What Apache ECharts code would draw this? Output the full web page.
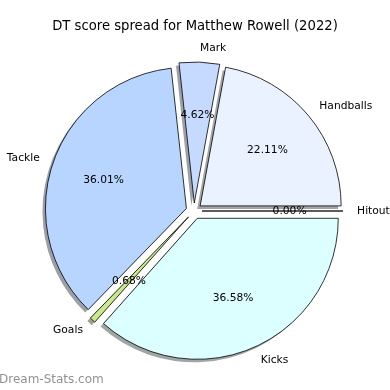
<!DOCTYPE html>
<html>
<head>
<meta charset="utf-8">
<script src="https://cdn.jsdelivr.net/npm/echarts@6/dist/echarts.min.js"></script>
<style>html,body{margin:0;padding:0;background:#fff;}#c{width:390px;height:390px;}</style>
</head>
<body>
<div id="c"></div>
<script>
var categories = ['Hitout', 'Handballs', 'Mark', 'Tackle', 'Goals', 'Kicks'];
var values = [0.00, 22.11, 4.62, 36.01, 0.68, 36.58];
var colors = ['#f0e0e0', '#ebf2ff', '#c6d9ff', '#b7d5ff', '#c9e78b', '#dcffff'];
var titleText = 'DT score spread for Matthew Rowell (2022)';

var R = 141, OFF = 8, CX = 194, CY = 211, SH = 3;
var font = 'DejaVu Sans';

function shadowOf(hex) {
  var r = parseInt(hex.slice(1, 3), 16), g = parseInt(hex.slice(3, 5), 16), b = parseInt(hex.slice(5, 7), 16);
  return 'rgba(' + Math.round(r * 0.3) + ',' + Math.round(g * 0.3) + ',' + Math.round(b * 0.3) + ',0.5)';
}

var mainData = categories.map(function (c, i) {
  return { name: c, value: values[i], selected: true, itemStyle: { color: colors[i] } };
});
var shadowData = categories.map(function (c, i) {
  return { name: c, value: values[i], selected: true, itemStyle: { color: shadowOf(colors[i]) } };
});
var ghostData = categories.map(function (c, i) {
  return { name: c, value: values[i], selected: true };
});

var common = {
  type: 'pie', startAngle: 0, clockwise: false,
  selectedMode: 'multiple', selectedOffset: OFF,
  avoidLabelOverlap: false, emphasis: { disabled: true }
};

var chart = echarts.init(document.getElementById('c'), null, { renderer: 'canvas' });
chart.setOption({
  animation: false,
  backgroundColor: '#fff',
  title: {
    text: titleText, left: 'center', top: 15,
    textStyle: { fontFamily: font, fontSize: 13.2, fontWeight: 'normal', color: '#000' }
  },
  graphic: [{
    type: 'text', left: -1, top: 374,
    style: { text: 'Dream-Stats.com', fill: '#929292', font: '12px "DejaVu Sans"' }
  }],
  series: [
    Object.assign({}, common, {
      center: [CX - SH, CY + SH], radius: [0, R], silent: true,
      itemStyle: { borderWidth: 0 },
      label: { show: false }, labelLine: { show: false },
      data: shadowData
    }),
    Object.assign({}, common, {
      center: [CX, CY], radius: [0, R],
      itemStyle: { borderColor: '#000', borderWidth: 0.8 },
      label: {
        show: true, position: 'outside', distanceToLabelLine: 0,
        fontFamily: font, fontSize: 10.7, color: '#000', formatter: '{b}'
      },
      labelLine: { show: false, length: R * 0.1, length2: 0 },
      data: mainData
    }),
    Object.assign({}, common, {
      center: [CX, CY], radius: [R * 0.5, R * 0.7], silent: true,
      itemStyle: { color: 'rgba(0,0,0,0)', borderWidth: 0 },
      label: {
        show: true, position: 'inside',
        fontFamily: font, fontSize: 10.7, color: '#000',
        formatter: function (p) { return p.value.toFixed(2) + '%'; }
      },
      labelLine: { show: false },
      data: ghostData
    })
  ]
});
</script>
</body>
</html>
